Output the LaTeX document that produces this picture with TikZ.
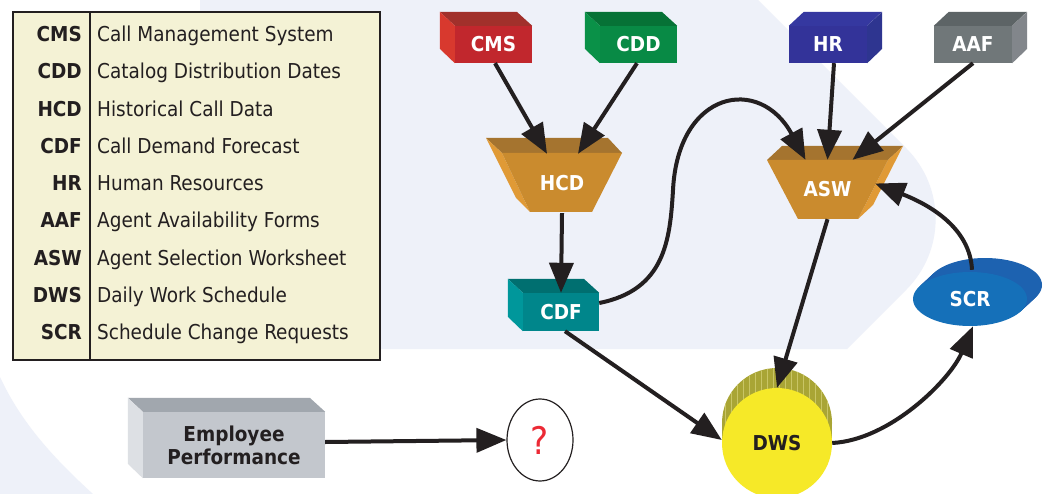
\documentclass[tikz,border=0pt]{standalone}
\usepackage{fontspec}
\setmainfont{DejaVu Sans Condensed}
\usetikzlibrary{shapes.geometric,arrows.meta}
\definecolor{bgblue}{HTML}{EEF1F9}
\definecolor{ink}{HTML}{231F20}
\definecolor{legendfill}{HTML}{F4F2D5}
\definecolor{cmsF}{HTML}{C1272D}\definecolor{cmsT}{HTML}{A1302B}\definecolor{cmsL}{HTML}{D8392E}
\definecolor{cddF}{HTML}{088A45}\definecolor{cddT}{HTML}{067236}\definecolor{cddL}{HTML}{0A9148}
\definecolor{hrF}{HTML}{333399}\definecolor{hrT}{HTML}{3538A0}\definecolor{hrR}{HTML}{2E3590}
\definecolor{aafF}{HTML}{707779}\definecolor{aafT}{HTML}{5D6466}\definecolor{aafR}{HTML}{82868B}
\definecolor{cdfF}{HTML}{00868B}\definecolor{cdfT}{HTML}{006F70}\definecolor{cdfL}{HTML}{00979B}
\definecolor{empF}{HTML}{C3C7CD}\definecolor{empT}{HTML}{A1A7AE}\definecolor{empL}{HTML}{DDE0E4}
\definecolor{trapT}{HTML}{A5742F}\definecolor{trapF}{HTML}{CA8B2E}\definecolor{trapS}{HTML}{E09A36}
\definecolor{scrF}{HTML}{1570B9}\definecolor{scrB}{HTML}{1D62B0}
\definecolor{dwsF}{HTML}{F6E928}\definecolor{dwsB}{HTML}{A9A535}\definecolor{dwsS}{HTML}{C9C565}
\definecolor{qred}{HTML}{EC2A35}
\newcommand{\sidesleft}[5]{%
  \fill[#4] (#1.north west) -- ++(-15,-14) -- ++(#2,0) -- (#1.north east) -- cycle;
  \fill[#5] (#1.north west) -- ++(-15,-14) -- ++(0,#3) -- (#1.south west) -- cycle;}
\newcommand{\sidesright}[5]{%
  \fill[#4] (#1.north west) -- ++(15,-14) -- ++(#2,0) -- (#1.north east) -- cycle;
  \fill[#5] (#1.north east) -- ++(15,-14) -- ++(0,#3) -- (#1.south east) -- cycle;}
\begin{document}
\begin{tikzpicture}[x=1pt,y=-1pt,
  lab/.style={font=\bfseries\fontsize{20.5}{23}\selectfont, text=white, inner sep=0pt},
  boxfront/.style={lab, rectangle, minimum height=37pt},
  legkey/.style={font=\bfseries\fontsize{20.5}{23}\selectfont, text=ink, inner sep=0pt},
  legtxt/.style={font=\fontsize{20.5}{23}\selectfont, text=ink, inner sep=0pt},
  arr/.style={draw=ink, line width=4pt, -{Triangle[length=30pt,width=24pt]}}]
\useasboundingbox (0,0) rectangle (1043,494);
\fill[white] (0,0) rectangle (1043,494);
% background
\fill[bgblue] (200,0) -- (758,0) -- (906.3,148.3) .. controls (945.4,187.4) and (945.4,250.7) .. (906.3,289.7) -- (847,349) -- (200,349) -- cycle;
\fill[bgblue] (0,377) .. controls (20,420) and (50,455) .. (93,494) -- (0,494) -- cycle;
% legend
\draw[ink, line width=1.5pt, fill=legendfill] (13,12) rectangle (380,360);
\draw[ink, line width=1.5pt] (90,12) -- (90,360);
\foreach \k/\d [count=\i from 0] in {CMS/Call Management System, CDD/Catalog Distribution Dates, HCD/Historical Call Data, CDF/Call Demand Forecast, HR/Human Resources, AAF/Agent Availability Forms, ASW/Agent Selection Worksheet, DWS/Daily Work Schedule, SCR/Schedule Change Requests}{
  \node[legkey, anchor=base east] (key\i) at (82,{41.5+37.3*\i}) {\k};
  \node[legtxt, anchor=base west] (txt\i) at (97,{41.5+37.3*\i}) {\d};
}
% boxes
\node[boxfront, fill=cmsF, minimum width=77pt] (cms) at (493.5,44.5) {CMS};
\sidesleft{cms}{77}{37}{cmsT}{cmsL}
\node[boxfront, fill=cddF, minimum width=77pt] (cdd) at (638.5,44.5) {CDD};
\sidesleft{cdd}{77}{37}{cddT}{cddL}
\node[boxfront, fill=hrF, minimum width=78pt] (hr) at (828,44.5) {HR};
\sidesright{hr}{78}{37}{hrT}{hrR}
\node[boxfront, fill=aafF, minimum width=78pt] (aaf) at (973,44.5) {AAF};
\sidesright{aaf}{78}{37}{aafT}{aafR}
\node[boxfront, fill=cdfF, minimum width=76pt, minimum height=38pt] (cdf) at (561,312) {CDF};
\sidesleft{cdf}{76}{38}{cdfT}{cdfL}
\node[boxfront, fill=empF, minimum width=182pt, minimum height=66pt, text=ink, align=center] (emp) at (234,445) {Employee\\Performance};
\sidesleft{emp}{182}{66}{empT}{empL}
% HCD trapezoid
\fill[trapT] (486,138) -- (608,138) -- (622,153) -- (502,153) -- cycle;
\fill[trapS] (486,138) -- (502,153) -- (530,212) -- (516,198) -- cycle;
\fill[trapF] (502,153) -- (622,153) -- (592,212) -- (530,212) -- cycle;
\node[lab, minimum width=120pt, minimum height=59pt] (hcd) at (562,183.5) {HCD};
% ASW trapezoid
\fill[trapT] (782,146) -- (903,146) -- (888,160) -- (767,160) -- cycle;
\fill[trapS] (888,160) -- (903,146) -- (873,205) -- (858,219) -- cycle;
\fill[trapF] (767,160) -- (888,160) -- (858,219) -- (798,219) -- cycle;
\node[lab, minimum width=121pt, minimum height=59pt] (asw) at (827.5,189.5) {ASW};
% SCR disc
\foreach \t in {0,0.1,...,1.0} \fill[scrB] ({985-15*\t},{285+14*\t}) ellipse[x radius=57pt, y radius=27pt];
\node[lab, ellipse, fill=scrF, minimum width=114pt, minimum height=54pt] (scr) at (970,299) {SCR};
% DWS cylinder
\fill[dwsB] (777,423) circle[radius=55pt];
\fill[dwsB] (722,423) rectangle (832,443);
\begin{scope}
  \clip (777,423) circle[radius=55pt] (722,423) rectangle (832,443);
  \foreach \x in {725,731,...,830} \draw[dwsS, line width=0.8pt] (\x,360) -- (\x,450);
\end{scope}
\node[lab, circle, fill=dwsF, minimum size=110pt, text=ink] (dws) at (777,443) {DWS};
% question
\node[ellipse, draw=ink, line width=1.2pt, fill=white, minimum width=66pt, minimum height=82pt, inner sep=0pt, text=qred, font=\fontsize{38}{40}\selectfont] (q) at (540,440) {?};
% connectors
\draw[arr] ([shift={(1.5,0)}]cms.south) -- ([shift={(-15,0)}]hcd.north);
\draw[arr] ([shift={(-1.5,0)}]cdd.south) -- ([shift={(16,0)}]hcd.north);
\draw[arr] (hcd.south) -- (cdf.north);
\draw[arr] ([shift={(0,-9)}]cdf.east) .. controls (665,290) and (670,240) .. (673,190) .. controls (678,90) and (760,75) .. ([shift={(-22,0)}]asw.north);
\draw[arr] ([shift={(6,0)}]hr.south) -- (asw.north);
\draw[arr] (aaf.south) -- ([shift={(25,0)}]asw.north);
\draw[arr] ([shift={(2,-2)}]scr.north) .. controls (970,228) and (930,205) .. ([shift={(-13,-6)}]asw.east);
\draw[arr] (asw.south) -- (dws.north);
\draw[arr] ([shift={(4,0)}]cdf.south) -- ([shift={(0,-3)}]dws.west);
\draw[arr] (dws.east) .. controls (890,440) and (950,380) .. ([shift={(3,0)}]scr.south);
\draw[arr] ([shift={(0,-3)}]emp.east) -- (q.west);
\end{tikzpicture}
\end{document}
